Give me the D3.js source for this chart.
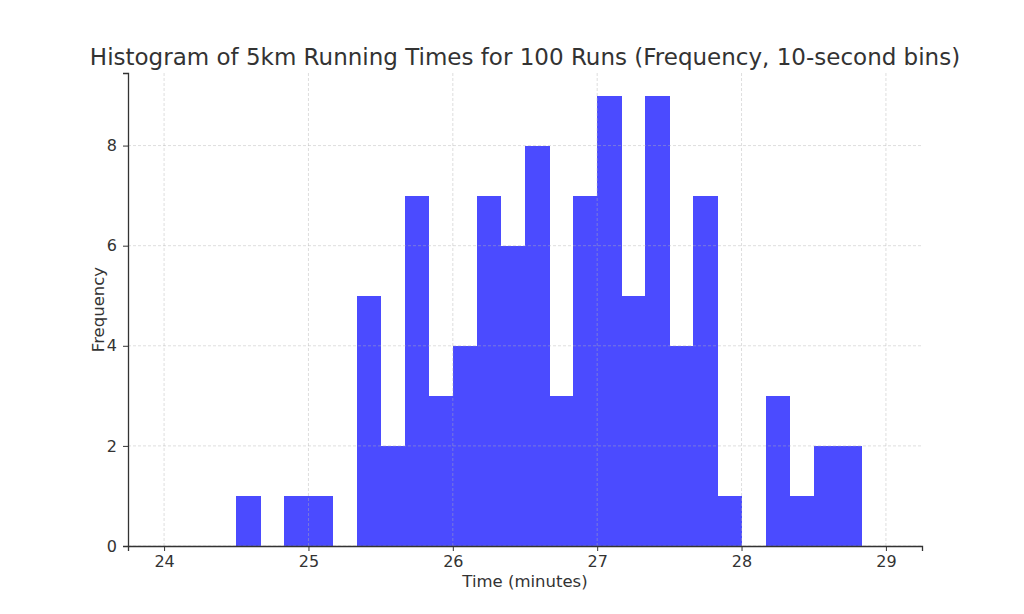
<!DOCTYPE html>
<html>
<head>
<meta charset="utf-8">
<script src="https://cdn.jsdelivr.net/npm/d3@7"></script>
<style>
  body { margin: 0; background: #fff; }
  svg text { font-family: "DejaVu Sans", sans-serif; fill: #333; }
</style>
</head>
<body>
<svg id="chart"></svg>
<script>
// Bin edges (minutes) — 10-second bins from 24 to 29
const binStarts = [24.0, 24.1667, 24.3333, 24.5, 24.6667, 24.8333,
  25.0, 25.1667, 25.3333, 25.5, 25.6667, 25.8333,
  26.0, 26.1667, 26.3333, 26.5, 26.6667, 26.8333,
  27.0, 27.1667, 27.3333, 27.5, 27.6667, 27.8333,
  28.0, 28.1667, 28.3333, 28.5, 28.6667, 28.8333];
const binWidth = 1 / 6;
// Frequency per bin
const counts = [0, 0, 0, 1, 0, 1,
  1, 0, 5, 2, 7, 3,
  4, 7, 6, 8, 3, 7,
  9, 5, 9, 4, 7, 1,
  0, 3, 1, 2, 2, 0];
const xTicks = [24, 25, 26, 27, 28, 29];
const yTicks = [0, 2, 4, 6, 8];

const bins = binStarts.map((x0, i) => ({ x0: x0, x1: x0 + binWidth, count: counts[i] }));

const totalWidth = 1024, totalHeight = 614;
const margin = { top: 73, right: 102, bottom: 68, left: 128 };
const width = totalWidth - margin.left - margin.right;
const height = totalHeight - margin.top - margin.bottom;

const svg = d3.select("#chart")
  .attr("width", totalWidth)
  .attr("height", totalHeight);

const g = svg.append("g")
  .attr("transform", "translate(" + margin.left + "," + margin.top + ")");

// x: data 24..29 with 5% padding, y: 0..max*1.05
const x = d3.scaleLinear().domain([23.75, 29.25]).range([0, width]);
const y = d3.scaleLinear().domain([0, d3.max(counts) * 1.05]).range([height, 0]);

// Bars (slightly widened so neighbours don't show a seam)
g.selectAll(".bar")
  .data(bins.filter(d => d.count > 0))
  .enter().append("rect")
  .attr("class", "bar")
  .attr("x", d => x(d.x0))
  .attr("y", d => y(d.count))
  .attr("width", d => x(d.x1) - x(d.x0) + 0.5)
  .attr("height", d => y(0) - y(d.count))
  .attr("fill", "#4b4bff")
  .attr("shape-rendering", "crispEdges");

// Grid lines (drawn over the bars, faint dashes)
g.append("g")
  .selectAll("line")
  .data(xTicks)
  .enter().append("line")
  .attr("x1", d => x(d)).attr("x2", d => x(d))
  .attr("y1", 0).attr("y2", height)
  .attr("stroke", "rgba(180,180,180,0.55)")
  .attr("stroke-width", 0.8)
  .attr("stroke-dasharray", "3,2");

g.append("g")
  .selectAll("line")
  .data(yTicks)
  .enter().append("line")
  .attr("x1", 0).attr("x2", width)
  .attr("y1", d => y(d)).attr("y2", d => y(d))
  .attr("stroke", "rgba(180,180,180,0.55)")
  .attr("stroke-width", 0.8)
  .attr("stroke-dasharray", "3,2");

// Axes
const xAxis = g.append("g")
  .attr("transform", "translate(0," + height + ")")
  .call(d3.axisBottom(x).tickValues(xTicks).tickFormat(d3.format("d")).tickSize(5).tickPadding(5));

const yAxis = g.append("g")
  .call(d3.axisLeft(y).tickValues(yTicks).tickFormat(d3.format("d")).tickSize(5).tickPadding(6));

[xAxis, yAxis].forEach(a => {
  a.attr("font-size", null).attr("font-family", null);
  a.select(".domain").attr("stroke", "#333").attr("stroke-width", 1.3);
  a.selectAll(".tick line").attr("stroke", "#333").attr("stroke-width", 1);
  a.selectAll(".tick text").style("font-size", "16px").attr("fill", "#333");
});

// Axis labels
svg.append("text")
  .attr("x", margin.left + width / 2)
  .attr("y", 587)
  .attr("text-anchor", "middle")
  .style("font-size", "16.5px")
  .text("Time (minutes)");

svg.append("text")
  .attr("transform", "translate(104," + (margin.top + height / 2) + ") rotate(-90)")
  .attr("text-anchor", "middle")
  .style("font-size", "16.5px")
  .text("Frequency");

// Title
svg.append("text")
  .attr("x", margin.left + width / 2)
  .attr("y", 65)
  .attr("text-anchor", "middle")
  .style("font-size", "23px")
  .text("Histogram of 5km Running Times for 100 Runs (Frequency, 10-second bins)");
</script>
</body>
</html>
